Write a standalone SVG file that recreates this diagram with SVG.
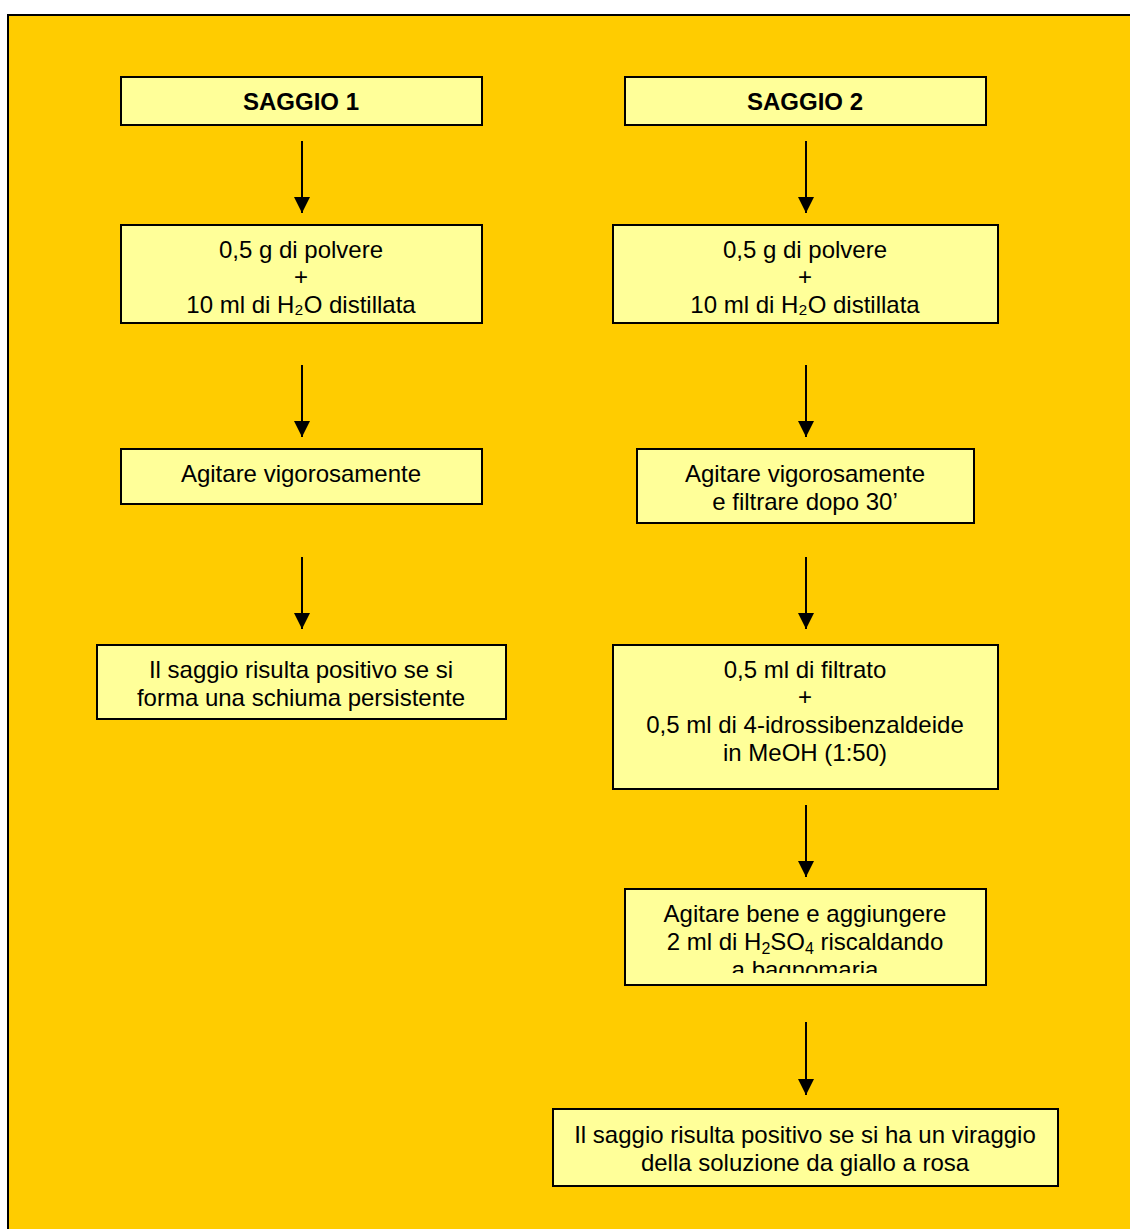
<svg xmlns="http://www.w3.org/2000/svg" width="1130" height="1229" viewBox="0 0 1130 1229">
<defs>
<style>
.box{fill:#FFFF99;stroke:#000;stroke-width:2}
.t{font-family:"Liberation Sans",Arial,sans-serif;font-size:24px;fill:#000;text-anchor:middle}
.b{font-weight:bold}
.c{stroke:#000;stroke-width:2;fill:none;marker-end:url(#ah)}
</style>
<marker id="ah" markerWidth="16" markerHeight="16" refX="16" refY="8" orient="auto" markerUnits="userSpaceOnUse">
<path d="M0,0 L16,8 L0,16 Z" fill="#000"/>
</marker>
<clipPath id="clip5"><rect x="626" y="890" width="359" height="83"/></clipPath>
</defs>
<rect x="0" y="0" width="1130" height="1229" fill="#fff"/>
<rect x="8" y="15" width="1140" height="1230" fill="#FFCC00" stroke="#000" stroke-width="2"/>
<g id="connectors">
<line class="c" x1="302" y1="141" x2="302" y2="213"/>
<line class="c" x1="302" y1="365" x2="302" y2="437"/>
<line class="c" x1="302" y1="557" x2="302" y2="629"/>
<line class="c" x1="806" y1="141" x2="806" y2="213"/>
<line class="c" x1="806" y1="365" x2="806" y2="437"/>
<line class="c" x1="806" y1="557" x2="806" y2="629"/>
<line class="c" x1="806" y1="805" x2="806" y2="877"/>
<line class="c" x1="806" y1="1022" x2="806" y2="1095"/>
</g>
<g id="saggio1"><rect class="box" x="121" y="77" width="361" height="48"/><text class="t b" x="301" y="110">SAGGIO 1</text></g>
<g id="saggio2"><rect class="box" x="625" y="77" width="361" height="48"/><text class="t b" x="805" y="110">SAGGIO 2</text></g>
<g id="polvere1"><rect class="box" x="121" y="225" width="361" height="98"/>
<text class="t" x="301" y="258">0,5 g di polvere</text><text class="t" x="301" y="285">+</text><text class="t" x="301" y="313">10 ml di H₂O distillata</text></g>
<g id="polvere2"><rect class="box" x="613" y="225" width="385" height="98"/>
<text class="t" x="805" y="258">0,5 g di polvere</text><text class="t" x="805" y="285">+</text><text class="t" x="805" y="313">10 ml di H₂O distillata</text></g>
<g id="agitare1"><rect class="box" x="121" y="449" width="361" height="55"/><text class="t" x="301" y="482">Agitare vigorosamente</text></g>
<g id="agitare2"><rect class="box" x="637" y="449" width="337" height="74"/><text class="t" x="805" y="482">Agitare vigorosamente</text><text class="t" x="805" y="510">e filtrare dopo 30’</text></g>
<g id="esito1"><rect class="box" x="97" y="645" width="409" height="74"/><text class="t" x="301" y="678">Il saggio risulta positivo se si</text><text class="t" x="301" y="706">forma una schiuma persistente</text></g>
<g id="filtrato"><rect class="box" x="613" y="645" width="385" height="144"/>
<text class="t" x="805" y="678">0,5 ml di filtrato</text><text class="t" x="805" y="705">+</text><text class="t" x="805" y="733">0,5 ml di 4-idrossibenzaldeide</text><text class="t" x="805" y="761">in MeOH (1:50)</text></g>
<g id="acido"><rect class="box" x="625" y="889" width="361" height="96"/>
<text class="t" x="805" y="922">Agitare bene e aggiungere</text>
<text class="t" x="805" y="950">2 ml di H<tspan font-size="16" dy="4">2</tspan><tspan dy="-4">SO</tspan><tspan font-size="16" dy="4">4</tspan><tspan dy="-4"> riscaldando</tspan></text>
<text class="t" x="805" y="978" clip-path="url(#clip5)">a bagnomaria</text></g>
<g id="esito2"><rect class="box" x="553" y="1109" width="505" height="77"/><text class="t" x="805" y="1143">Il saggio risulta positivo se si ha un viraggio</text><text class="t" x="805" y="1171">della soluzione da giallo a rosa</text></g>
</svg>
